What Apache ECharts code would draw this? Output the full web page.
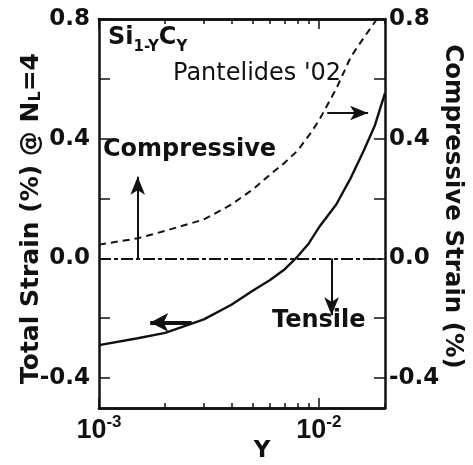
<!DOCTYPE html>
<html>
<head>
<meta charset="utf-8">
<style>
  html, body { margin: 0; padding: 0; background: #fff; }
  #chart { width: 473px; height: 465px; }
</style>
<script src="https://cdn.jsdelivr.net/npm/echarts@6/dist/echarts.min.js"></script>
</head>
<body>
<div id="chart"></div>
<script>
// Carbon fraction Y (log scale) and the strain curves
const totalY = [0.001, 0.0015, 0.002, 0.003, 0.004, 0.005, 0.006, 0.007, 0.008, 0.009, 0.01, 0.012, 0.014, 0.016, 0.018, 0.02];
const totalStrain = [-0.29, -0.267, -0.249, -0.204, -0.155, -0.108, -0.072, -0.036, 0.006, 0.05, 0.103, 0.18, 0.27, 0.36, 0.445, 0.552];

const compY = [0.001, 0.0015, 0.002, 0.003, 0.004, 0.005, 0.006, 0.007, 0.008, 0.009, 0.01, 0.012, 0.014, 0.016, 0.018, 0.0184];
const compStrain = [0.046, 0.067, 0.092, 0.13, 0.18, 0.23, 0.28, 0.32, 0.36, 0.41, 0.46, 0.567, 0.674, 0.737, 0.79, 0.8];

// Axis ticks and labels
const xMajorTicks = [0.001, 0.01];
const xMinorTicks = [0.002, 0.003, 0.004, 0.005, 0.006, 0.007, 0.008, 0.009, 0.02];
const yTicks = [-0.4, -0.2, 0, 0.2, 0.4, 0.6, 0.8];
const yLabels = [-0.4, 0, 0.4, 0.8];

const FONT = 'DejaVu Sans';
const FONT_X = 'Liberation Sans';
const INK = '#111';

const zip = (xs, ys) => xs.map((x, i) => [x, ys[i]]);

const baseX = {
  type: 'log', logBase: 10, min: 0.001, max: 0.02, gridIndex: 0,
  splitLine: { show: false }, minorTick: { show: false }
};

function xAxisDef(position, ticks, len, withLabels) {
  return Object.assign({}, baseX, {
    position: position,
    axisLine: { show: true, onZero: false, lineStyle: { color: INK, width: 2.5 } },
    axisTick: { show: true, inside: true, length: len, customValues: ticks, lineStyle: { color: INK, width: 1.5 } },
    axisLabel: withLabels ? {
      show: true, customValues: xMajorTicks, margin: 6,
      formatter: v => '{b|10}{s|' + Math.round(Math.log10(v)) + '}',
      rich: {
        b: { fontFamily: FONT_X, fontWeight: 'bold', fontSize: 27, color: INK, verticalAlign: 'bottom', lineHeight: 30 },
        s: { fontFamily: FONT_X, fontWeight: 'bold', fontSize: 17, color: INK, verticalAlign: 'top', lineHeight: 30 }
      }
    } : { show: false }
  });
}

const xAxes = [
  Object.assign(xAxisDef('bottom', xMajorTicks, 10, true), {
    name: 'Y', nameLocation: 'middle', nameGap: 32, nameMoveOverlap: false,
    nameTextStyle: { fontFamily: FONT, fontWeight: 'bold', fontSize: 23, color: INK, padding: [0, 0, 0, 40] }
  }),
  xAxisDef('bottom', xMinorTicks, 5, false),
  xAxisDef('top', xMajorTicks, 10, false),
  xAxisDef('top', xMinorTicks, 5, false)
];

function yAxisDef(position) {
  return {
    type: 'value', min: -0.5, max: 0.8, position: position,
    splitLine: { show: false },
    axisLine: { show: true, onZero: false, lineStyle: { color: INK, width: 2.5 } },
    axisTick: { show: true, inside: true, length: 11, customValues: yTicks, lineStyle: { color: INK, width: 1.5 } },
    axisLabel: {
      show: true, customValues: yLabels, margin: position === 'left' ? 9 : 4,
      formatter: v => v.toFixed(1),
      fontFamily: FONT, fontWeight: 'bold', fontSize: 23, color: INK,
      padding: [10, 0, 0, 0]
    }
  };
}

const yAxes = [
  Object.assign(yAxisDef('left'), {
    name: 'Total Strain (%) @ N{sub|L}=4', nameLocation: 'middle', nameGap: 55, nameMoveOverlap: false,
    nameTextStyle: {
      fontFamily: FONT, fontWeight: 'bold', fontSize: 25, color: INK, padding: [0, 10, 0, 0],
      rich: {
        sub: { fontFamily: FONT, fontWeight: 'bold', fontSize: 16, color: INK, verticalAlign: 'bottom' }
      }
    }
  }),
  Object.assign(yAxisDef('right'), {
    name: 'Compressive Strain (%)', nameLocation: 'middle', nameGap: 55, nameRotate: -90, nameMoveOverlap: false,
    nameTextStyle: { fontFamily: FONT, fontWeight: 'bold', fontSize: 24.5, color: INK, padding: [0, 14, 0, 0] }
  })
];

const arrowHead = (size) => ({ symbol: 'arrow', symbolSize: size });

const option = {
  animation: false,
  backgroundColor: '#fff',
  grid: { left: 99, top: 19, right: 88, bottom: 57, containLabel: false, outerBoundsMode: 'none' },
  xAxis: xAxes,
  yAxis: yAxes,
  graphic: [
    {
      type: 'text', left: 108, top: 26, silent: true,
      style: {
        text: 'Si{s|1-Y}C{s|Y}',
        font: 'bold 24px "DejaVu Sans"', fill: INK,
        rich: {
          s: { fontFamily: FONT, fontWeight: 'bold', fontSize: 15, fill: INK, verticalAlign: 'bottom', lineHeight: 34 }
        }
      }
    },
    {
      type: 'text', left: 173, top: 62, silent: true,
      style: { text: "Pantelides '02", font: '24px "DejaVu Sans"', fill: INK }
    },
    {
      type: 'text', left: 103, top: 138, silent: true,
      style: { text: 'Compressive', font: 'bold 24px "DejaVu Sans"', fill: INK }
    },
    {
      type: 'text', left: 272, top: 309, silent: true,
      style: { text: 'Tensile', font: 'bold 24px "DejaVu Sans"', fill: INK }
    }
  ],
  series: [
    {
      name: 'Total strain', type: 'line', xAxisIndex: 0, yAxisIndex: 0,
      data: zip(totalY, totalStrain),
      showSymbol: false, smooth: false, silent: true,
      lineStyle: { color: INK, width: 2.4 },
      z: 5,
      markLine: {
        silent: true, animation: false,
        label: { show: false },
        emphasis: { disabled: true },
        data: [
          // zero strain reference
          [
            { coord: [0.001, 0], symbol: 'none' },
            { coord: [0.02, 0], symbol: 'none' }
          ],
          // compressive direction
          [
            { coord: [0.0015, 0], symbol: 'none', lineStyle: { color: INK, width: 2, type: 'solid' } },
            Object.assign({ coord: [0.0015, 0.273] }, arrowHead([11, 18]))
          ],
          // tensile direction
          [
            { coord: [0.01143, 0], symbol: 'none', lineStyle: { color: INK, width: 2, type: 'solid' } },
            Object.assign({ coord: [0.01143, -0.19] }, arrowHead([11, 18]))
          ],
          // solid curve reads on the left axis
          [
            { coord: [0.00264, -0.214], symbol: 'none', lineStyle: { color: INK, width: 4, type: 'solid' } },
            Object.assign({ coord: [0.00171, -0.214] }, arrowHead([14, 18]))
          ]
        ],
        lineStyle: { color: INK, width: 2.2, type: [12, 3, 4, 3] }
      }
    },
    {
      name: 'Compressive strain', type: 'line', xAxisIndex: 0, yAxisIndex: 1,
      data: zip(compY, compStrain),
      showSymbol: false, smooth: false, silent: true,
      lineStyle: { color: INK, width: 2, type: [7, 5] },
      z: 4,
      markLine: {
        silent: true, animation: false,
        label: { show: false },
        emphasis: { disabled: true },
        data: [
          // dashed curve reads on the right axis
          [
            { coord: [0.01092, 0.486], symbol: 'none' },
            Object.assign({ coord: [0.01675, 0.486] }, arrowHead([11, 18]))
          ]
        ],
        lineStyle: { color: INK, width: 2, type: 'solid' }
      }
    }
  ]
};

const chart = echarts.init(document.getElementById('chart'), null, { renderer: 'canvas' });
chart.setOption(option);
</script>
</body>
</html>
